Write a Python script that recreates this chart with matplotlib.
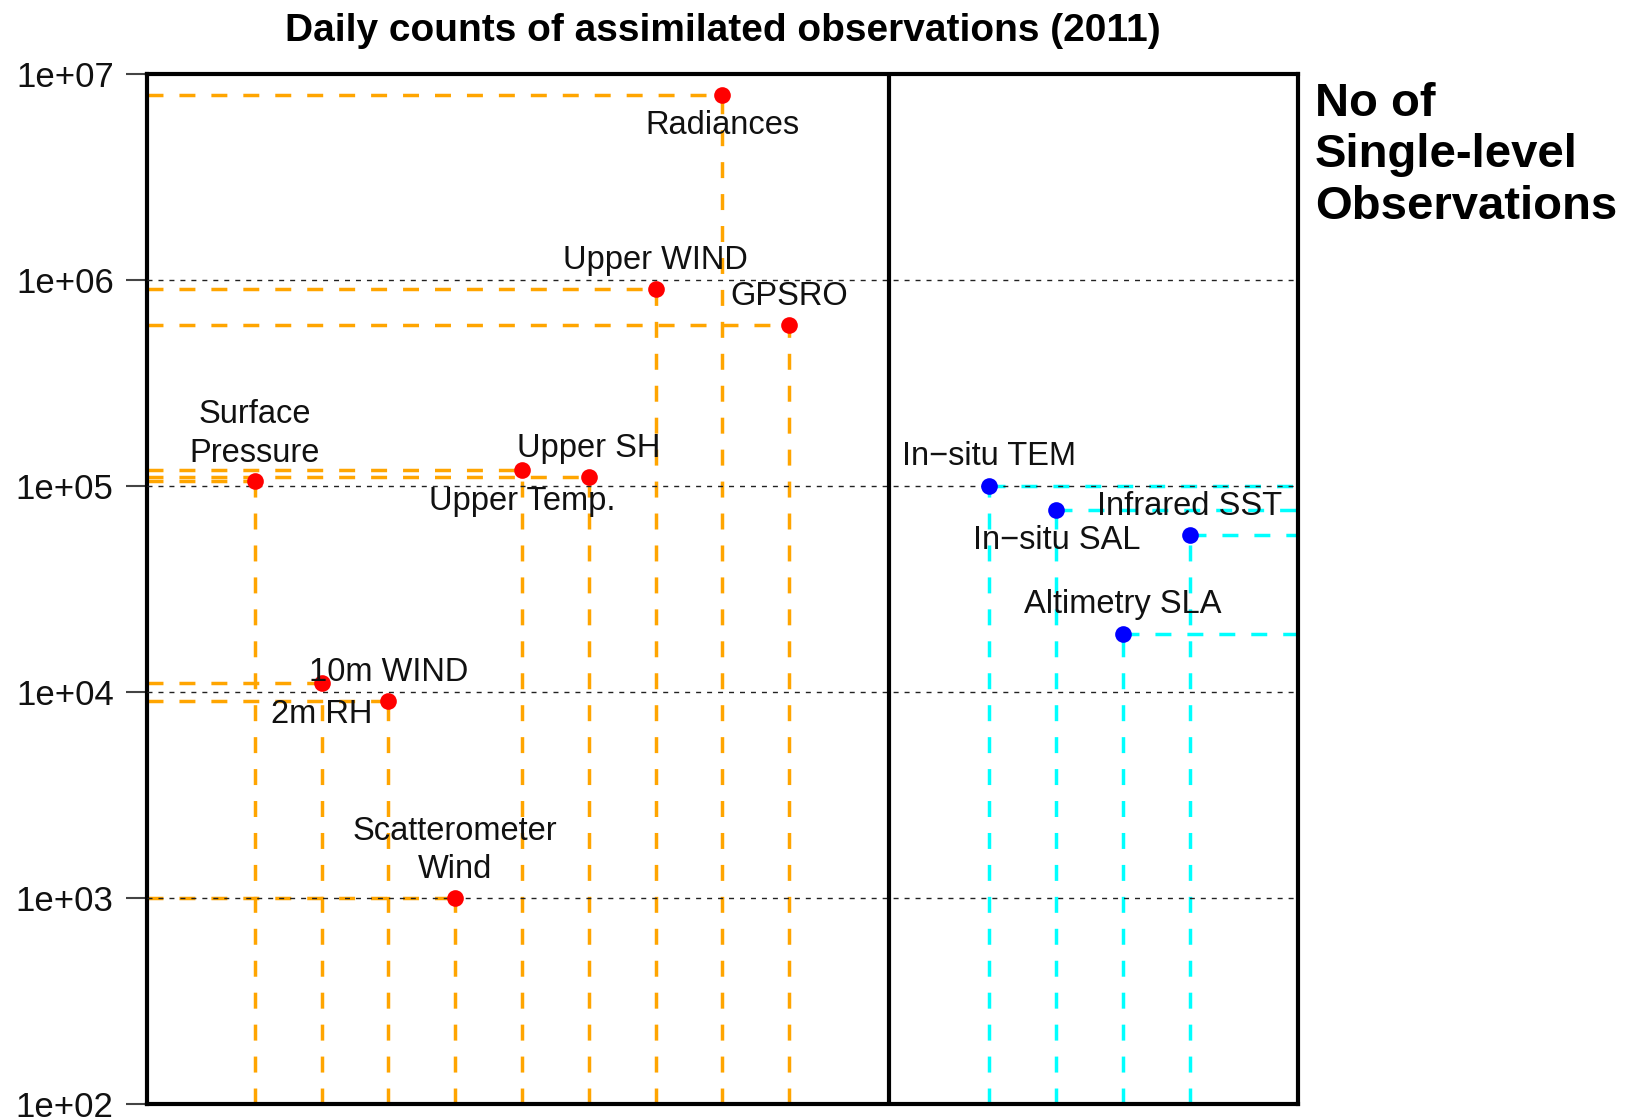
import numpy as np
import matplotlib.pyplot as plt
from matplotlib.ticker import FixedLocator, NullLocator

plt.rcParams['font.family'] = ['Liberation Sans', 'DejaVu Sans']

# Atmospheric observations (left panel)
atm_labels = ["Surface\nPressure", "2m RH", "10m WIND", "Scatterometer\nWind",
              "Upper Temp.", "Upper SH", "Upper WIND", "Radiances", "GPSRO"]
atm_x = [1, 2, 3, 4, 5, 6, 7, 8, 9]
atm_counts = [1.05e5, 1.1e4, 9.0e3, 1.0e3, 1.19e5, 1.1e5, 9.0e5, 7.9e6, 6.0e5]
atm_side = ["above2", "below", "above", "above2", "below", "above", "above", "below", "above"]

# Ocean observations (right panel)
ocn_labels = ["In\u2212situ TEM", "In\u2212situ SAL", "Altimetry SLA", "Infrared SST"]
ocn_x = [12, 13, 14, 15]
ocn_counts = [1.0e5, 7.66e4, 1.91e4, 5.74e4]
ocn_side = ["above", "below", "above", "above"]

ytick_vals = [1e2, 1e3, 1e4, 1e5, 1e6, 1e7]
ytick_labels = ["1e+02", "1e+03", "1e+04", "1e+05", "1e+06", "1e+07"]

xmin, xmax, xsplit = -0.615, 16.62, 10.49
offsets = {"above": 20.8, "above2": 34.0, "below": -22.2}

fig = plt.figure(figsize=(16.26, 11.19), dpi=100)
ax = fig.add_axes([0.0904, 0.0135, 0.7079, 0.9207])
ax.set_yscale("log")
ax.set_xlim(xmin, xmax)
ax.set_ylim(1e2, 1e7)

# dotted decade grid
for v in ytick_vals[1:-1]:
    ax.plot([xmin, xmax], [v, v], color="#222222", lw=1.0, dashes=(3.6, 4.3), zorder=3)

dash = dict(lw=2.5, dashes=(4.6, 4.6), zorder=2)
for x, c in zip(atm_x, atm_counts):
    ax.plot([xmin, x], [c, c], color="orange", **dash)
    ax.plot([x, x], [1e2, c], color="orange", **dash)
for x, c in zip(ocn_x, ocn_counts):
    ax.plot([x, xmax], [c, c], color="cyan", **dash)
    ax.plot([x, x], [1e2, c], color="cyan", **dash)

ax.plot(atm_x, atm_counts, "o", color="red", ms=12, mec="none", zorder=5)
ax.plot(ocn_x, ocn_counts, "o", color="blue", ms=12, mec="none", zorder=5)

for labs, xs, cs, sides in [(atm_labels, atm_x, atm_counts, atm_side),
                            (ocn_labels, ocn_x, ocn_counts, ocn_side)]:
    for lab, x, c, s in zip(labs, xs, cs, sides):
        ax.annotate(lab, (x, c), xytext=(0, offsets[s]), textcoords="offset points",
                    ha="center", va="center", fontsize=23.5, color="#111111",
                    linespacing=1.32, zorder=6)

ax.axvline(xsplit, color="black", lw=3, zorder=4)

for sp in ax.spines.values():
    sp.set_linewidth(3)
ax.xaxis.set_major_locator(NullLocator())
ax.xaxis.set_minor_locator(NullLocator())
ax.yaxis.set_major_locator(FixedLocator(ytick_vals))
ax.yaxis.set_minor_locator(NullLocator())
ax.set_yticklabels(ytick_labels)
ax.tick_params(axis="y", length=15, width=1.5, color="#444444", pad=9,
               labelsize=25, labelcolor="#111111")

fig.text(0.4445, 0.972, "Daily counts of assimilated observations (2011)",
         ha="center", va="center", fontsize=28, fontweight="bold")
fig.text(0.8087, 0.927, "No of\nSingle-level\nObservations", ha="left", va="top",
         fontsize=34, fontweight="bold", linespacing=1.22)

fig.savefig("out.png", dpi=100)
